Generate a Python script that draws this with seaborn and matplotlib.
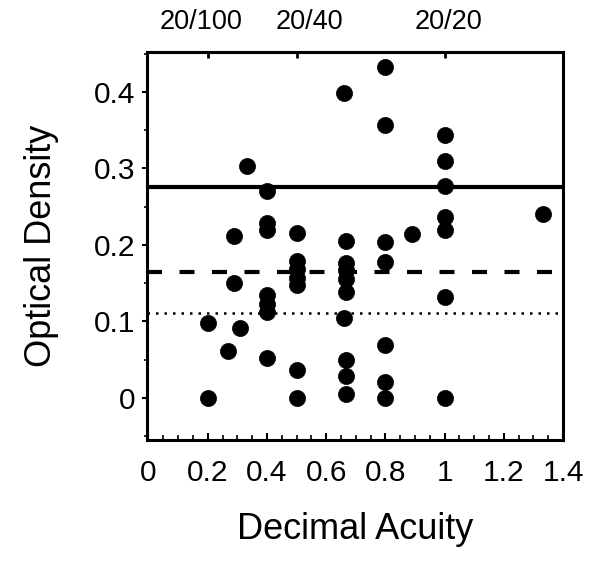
import matplotlib
matplotlib.use("Agg")
import matplotlib.pyplot as plt
import matplotlib.transforms as mtransforms
import seaborn as sns
import pandas as pd
from matplotlib.ticker import MultipleLocator, FixedLocator

# ---- data ----
acuity = [0.2, 0.2,
          0.27,
          0.289, 0.289,
          0.31,
          0.334,
          0.4, 0.4, 0.4, 0.4, 0.4, 0.4, 0.4,
          0.5, 0.5, 0.5, 0.5, 0.5, 0.5, 0.5,
          0.662, 0.667, 0.667, 0.667, 0.667, 0.667, 0.662, 0.667, 0.667, 0.667,
          0.8, 0.8, 0.8, 0.8, 0.8, 0.8, 0.8,
          0.89,
          1.0, 1.0, 1.0, 1.0, 1.0, 1.0, 1.0,
          1.333]
density = [0.098, 0.0,
           0.061,
           0.212, 0.150,
           0.091,
           0.303,
           0.271, 0.229, 0.220, 0.134, 0.123, 0.112, 0.052,
           0.216, 0.179, 0.168, 0.157, 0.148, 0.036, 0.0,
           0.399, 0.205, 0.176, 0.167, 0.156, 0.139, 0.105, 0.049, 0.029, 0.005,
           0.433, 0.356, 0.204, 0.177, 0.069, 0.021, 0.0,
           0.214,
           0.343, 0.309, 0.277, 0.237, 0.219, 0.132, 0.0,
           0.240]

solid_level = 0.275
dashed_level = 0.164
dotted_level = 0.111

x_ticks = [0, 0.2, 0.4, 0.6, 0.8, 1.0, 1.2, 1.4]
x_ticklabels = ["0", "0.2", "0.4", "0.6", "0.8", "1", "1.2", "1.4"]
y_ticks = [0, 0.1, 0.2, 0.3, 0.4]
y_ticklabels = ["0", "0.1", "0.2", "0.3", "0.4"]
snellen_pos = [0.2, 0.5, 1.0]
snellen_labels = ["20/100", "20/40", "20/20"]

df = pd.DataFrame({"Decimal Acuity": acuity, "Optical Density": density})

sns.set_style("ticks")
plt.rcParams["font.family"] = ["Liberation Sans", "DejaVu Sans"]
plt.rcParams["text.color"] = "black"
plt.rcParams["axes.labelcolor"] = "black"
plt.rcParams["xtick.color"] = "black"
plt.rcParams["ytick.color"] = "black"

fig = plt.figure(figsize=(6.01, 5.63), dpi=100)
ax = fig.add_axes([0.2446, 0.2185, 0.6922, 0.6891])

sns.scatterplot(data=df, x="Decimal Acuity", y="Optical Density", ax=ax,
                color="black", s=135, edgecolor="black", linewidth=0.5,
                zorder=3, legend=False)

ax.axhline(solid_level, color="black", lw=3.0, zorder=2)
ax.axhline(dashed_level, color="black", lw=3.0, ls=(0, (3.6, 4.2)), zorder=2)
ax.axhline(dotted_level, color="black", lw=1.8, ls=(0, (1, 2.4)), zorder=2)

ax.set_xlim(-0.005, 1.40)
ax.set_ylim(-0.055, 0.452)

ax.xaxis.set_major_locator(FixedLocator(x_ticks))
ax.set_xticklabels(x_ticklabels)
ax.xaxis.set_minor_locator(MultipleLocator(0.05))
ax.yaxis.set_major_locator(FixedLocator(y_ticks))
ax.set_yticklabels(y_ticklabels)
ax.yaxis.set_minor_locator(MultipleLocator(0.05))

for sp in ax.spines.values():
    sp.set_visible(True)
    sp.set_linewidth(2.2)
    sp.set_color("black")

ax.tick_params(axis="x", which="major", direction="in", length=5, width=1.5,
               labelsize=21.5, pad=14, top=False, labelcolor="black")
ax.tick_params(axis="x", which="minor", direction="in", length=3.5, width=1.2, top=False)
ax.tick_params(axis="y", which="major", direction="out", length=3.5, width=1.5,
               labelsize=21.5, pad=5, right=False, labelcolor="black")
ax.tick_params(axis="y", which="minor", direction="out", length=2, width=1.2, right=False)

ax.set_xlabel("Decimal Acuity", fontsize=26, labelpad=18, color="black")
ax.set_ylabel("Optical Density", fontsize=26, labelpad=25, color="black")

sec = ax.secondary_xaxis("top")
sec.set_xticks(snellen_pos)
sec.set_xticklabels(snellen_labels)
sec.tick_params(direction="in", length=4, width=2, labelsize=19.5, pad=12,
                labelcolor="black", color="black")
sec.spines["top"].set_linewidth(2.2)

# small horizontal nudges of the Snellen labels, as in the reference
nudges_px = [-7, 13, 4]
for lab, dx in zip(sec.get_xticklabels(), nudges_px):
    lab.set_transform(lab.get_transform() +
                      mtransforms.ScaledTranslation(dx / 100, 0, fig.dpi_scale_trans))

fig.savefig("out.png", dpi=100)
